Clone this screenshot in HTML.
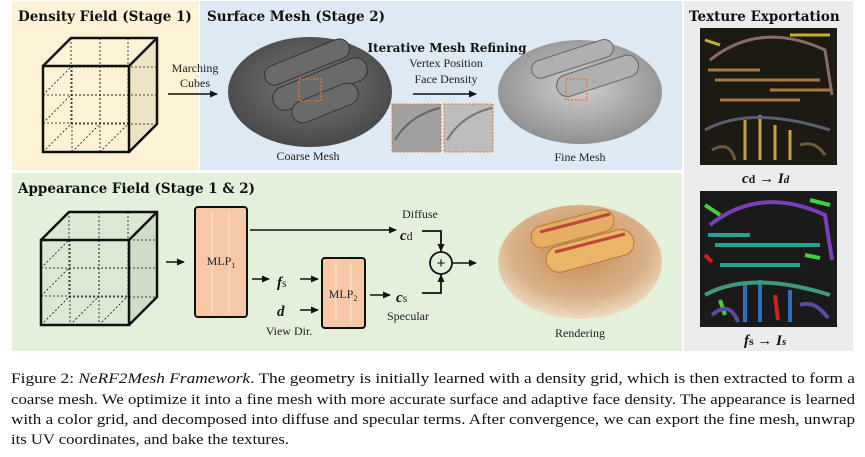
<!DOCTYPE html>
<html><head><meta charset="utf-8"><style>
html,body{margin:0;padding:0;background:#fff;width:865px;height:457px;overflow:hidden}
svg{display:block}
.t{font-family:"DejaVu Serif","Liberation Serif",serif;font-weight:bold;font-size:13.5px;fill:#111}
.s{font-family:"Liberation Serif",serif;font-size:12px;fill:#222}
.m{font-family:"Liberation Serif",serif;font-style:italic;font-weight:bold;font-size:15px;fill:#111}
.c{font-family:"Liberation Serif",serif;font-size:15px;fill:#111}
</style></head><body>
<svg width="865" height="457" viewBox="0 0 865 457" xmlns="http://www.w3.org/2000/svg">
<defs>
<marker id="a" markerWidth="8" markerHeight="8" refX="7" refY="4" orient="auto" markerUnits="userSpaceOnUse"><path d="M0,0.5 L8,4 L0,7.5z" fill="#111"/></marker>
<radialGradient id="g1" cx="50%" cy="45%" r="60%"><stop offset="0" stop-color="#7a7a7a"/><stop offset="1" stop-color="#444"/></radialGradient>
<radialGradient id="g2" cx="50%" cy="45%" r="60%"><stop offset="0" stop-color="#d0d0d0"/><stop offset="1" stop-color="#8a8a8a"/></radialGradient>
<radialGradient id="g3" cx="50%" cy="40%" r="60%"><stop offset="0" stop-color="#c98a55"/><stop offset="0.7" stop-color="#d9b188"/><stop offset="1" stop-color="#efdcc4"/></radialGradient>
</defs>
<rect x="12" y="1" width="187" height="169" fill="#fdf2d6"/>
<rect x="200" y="1" width="482" height="169" fill="#dde9f5"/>
<rect x="12" y="173" width="670" height="178" fill="#e3f0da"/>
<rect x="684" y="1" width="169" height="350" fill="#ececec"/>

<text class="t" x="18" y="21">Density Field (Stage 1)</text>
<text class="t" x="207" y="21">Surface Mesh (Stage 2)</text>
<text class="t" x="18" y="193">Appearance Field (Stage 1 &amp; 2)</text>
<text class="t" x="689" y="21">Texture Exportation</text>

<g stroke="#111" fill="none">
<polygon points="129,66 157,38 157,124 129,152" fill="#efe3c6" stroke="none"/>
<g stroke-dasharray="2,2" stroke-width="0.8">
<line x1="71" y1="38" x2="71" y2="124"/><line x1="71" y1="124" x2="157" y2="124"/><line x1="43" y1="152" x2="71" y2="124"/>
<line x1="100" y1="38" x2="100" y2="124"/><line x1="128" y1="38" x2="128" y2="124"/>
<line x1="71" y1="67" x2="157" y2="67"/><line x1="71" y1="95" x2="157" y2="95"/>
<line x1="72" y1="66" x2="72" y2="152"/><line x1="100" y1="66" x2="100" y2="152"/>
<line x1="43" y1="95" x2="129" y2="95"/><line x1="43" y1="123" x2="129" y2="123"/>
<line x1="43" y1="123" x2="71" y2="95"/><line x1="43" y1="95" x2="71" y2="67"/>
<line x1="72" y1="152" x2="100" y2="124"/><line x1="100" y1="152" x2="128" y2="124"/>
</g>
<g stroke-width="2.5">
<rect x="43" y="66" width="86" height="86"/>
<polyline points="43,66 71,38 157,38 157,124 129,152"/><line x1="129" y1="66" x2="157" y2="38"/>
</g>
</g>
<text class="s" x="195" y="72" text-anchor="middle">Marching</text>
<text class="s" x="195" y="87" text-anchor="middle">Cubes</text>
<line x1="168" y1="94" x2="217" y2="94" stroke="#111" stroke-width="1.5" marker-end="url(#a)"/>

<ellipse cx="310" cy="92" rx="82" ry="55" fill="url(#g1)"/>
<g fill="#6a6a6a" stroke="#333" stroke-width="1">
<rect x="262" y="52" width="90" height="20" rx="10" transform="rotate(-22 307 62)"/>
<rect x="270" y="72" width="100" height="24" rx="12" transform="rotate(-22 320 84)"/>
<rect x="290" y="92" width="70" height="22" rx="11" transform="rotate(-22 325 103)"/>
</g>
<rect x="299" y="79" width="22" height="22" fill="none" stroke="#f07020" stroke-width="1.3" stroke-dasharray="2,1.5"/>
<text class="s" x="308" y="160" text-anchor="middle">Coarse Mesh</text>

<text class="t" x="447" y="52" text-anchor="middle" style="font-size:12px">Iterative Mesh Refining</text>
<text class="s" x="446" y="67" text-anchor="middle">Vertex Position</text>
<text class="s" x="446" y="83" text-anchor="middle">Face Density</text>
<line x1="413" y1="94" x2="476" y2="94" stroke="#111" stroke-width="1.5" marker-end="url(#a)"/>
<rect x="392" y="104" width="49" height="48" fill="#a0a0a0" stroke="#f07020" stroke-dasharray="2,1.5"/>
<rect x="444" y="104" width="49" height="48" fill="#bdbdbd" stroke="#f07020" stroke-dasharray="2,1.5"/>
<path d="M395,140 Q410,115 440,108" stroke="#666" fill="none" stroke-width="2"/>
<path d="M447,140 Q462,115 492,108" stroke="#777" fill="none" stroke-width="2"/>

<ellipse cx="580" cy="92" rx="82" ry="52" fill="url(#g2)"/>
<g fill="#b0b0b0" stroke="#666" stroke-width="1">
<rect x="530" y="50" width="85" height="18" rx="9" transform="rotate(-18 572 59)"/>
<rect x="555" y="65" width="85" height="22" rx="11" transform="rotate(-18 597 76)"/>
</g>
<rect x="566" y="79" width="21" height="21" fill="none" stroke="#f07020" stroke-width="1.3" stroke-dasharray="2,1.5"/>
<text class="s" x="580" y="161" text-anchor="middle">Fine Mesh</text>

<g stroke="#111" fill="none">
<polygon points="41,240 69,212 157,212 157,297 129,325 41,325" fill="#dbe9d3" stroke="none"/>
<polygon points="129,240 157,212 157,297 129,325" fill="#cfdcc8" stroke="none"/>
<g stroke-dasharray="2,2" stroke-width="0.8">
<line x1="69" y1="212" x2="69" y2="297"/><line x1="69" y1="297" x2="157" y2="297"/><line x1="41" y1="325" x2="69" y2="297"/>
<line x1="99" y1="212" x2="99" y2="297"/><line x1="128" y1="212" x2="128" y2="297"/>
<line x1="69" y1="240" x2="157" y2="240"/><line x1="69" y1="268" x2="157" y2="268"/>
<line x1="70" y1="240" x2="70" y2="325"/><line x1="99" y1="240" x2="99" y2="325"/>
<line x1="41" y1="268" x2="129" y2="268"/><line x1="41" y1="296" x2="129" y2="296"/>
<line x1="41" y1="296" x2="69" y2="268"/><line x1="41" y1="268" x2="69" y2="240"/>
<line x1="70" y1="325" x2="98" y2="297"/><line x1="99" y1="325" x2="127" y2="297"/>
</g>
<g stroke-width="2.5">
<rect x="41" y="240" width="88" height="85"/>
<polyline points="41,240 69,212 157,212 157,297 129,325"/><line x1="129" y1="240" x2="157" y2="212"/>
</g>
</g>
<line x1="166" y1="262" x2="184" y2="262" stroke="#111" stroke-width="1.5" marker-end="url(#a)"/>

<rect x="195" y="207" width="52" height="110" rx="3" fill="#f6c8a8" stroke="#111" stroke-width="2"/>
<g stroke="#fbe3d2" stroke-width="1"><line x1="212" y1="211" x2="212" y2="313"/><line x1="229" y1="211" x2="229" y2="313"/></g>
<text class="s" x="221" y="265" text-anchor="middle">MLP<tspan font-size="8" dy="3">1</tspan></text>
<line x1="250" y1="230" x2="396" y2="230" stroke="#111" stroke-width="1.5" marker-end="url(#a)"/>
<text class="s" x="420" y="218" text-anchor="middle">Diffuse</text>
<text class="m" x="400" y="240">c<tspan class="s" font-style="normal" font-weight="normal" font-size="11">d</tspan></text>
<line x1="252" y1="279" x2="269" y2="279" stroke="#111" stroke-width="1.5" marker-end="url(#a)"/>
<text class="m" x="277" y="287">f<tspan class="s" font-style="normal" font-weight="normal" font-size="11">s</tspan></text>
<line x1="300" y1="279" x2="318" y2="279" stroke="#111" stroke-width="1.5" marker-end="url(#a)"/>
<text class="m" x="277" y="316">d</text>
<line x1="300" y1="310" x2="318" y2="310" stroke="#111" stroke-width="1.5" marker-end="url(#a)"/>
<text class="s" x="289" y="335" text-anchor="middle">View Dir.</text>
<rect x="322" y="258" width="43" height="70" rx="3" fill="#f6c8a8" stroke="#111" stroke-width="2"/>
<g stroke="#fbe3d2" stroke-width="1"><line x1="336" y1="262" x2="336" y2="324"/><line x1="351" y1="262" x2="351" y2="324"/></g>
<text class="s" x="343" y="298" text-anchor="middle" font-size="11">MLP<tspan font-size="8" dy="3">2</tspan></text>
<line x1="370" y1="295" x2="390" y2="295" stroke="#111" stroke-width="1.5" marker-end="url(#a)"/>
<text class="m" x="396" y="302">c<tspan class="s" font-style="normal" font-weight="normal" font-size="11">s</tspan></text>
<text class="s" x="408" y="320" text-anchor="middle">Specular</text>
<polyline points="422,231 441,231 441,251" fill="none" stroke="#111" stroke-width="1.8" marker-end="url(#a)"/>
<polyline points="422,293 441,293 441,275" fill="none" stroke="#111" stroke-width="1.8" marker-end="url(#a)"/>
<circle cx="441" cy="263" r="11" fill="none" stroke="#111" stroke-width="1.8"/>
<text x="441" y="268" text-anchor="middle" font-family="Liberation Sans,sans-serif" font-size="15" fill="#111">+</text>
<line x1="452" y1="263" x2="476" y2="263" stroke="#111" stroke-width="1.5" marker-end="url(#a)"/>

<ellipse cx="580" cy="262" rx="82" ry="57" fill="url(#g3)"/>
<g stroke="#b77b3a" stroke-width="1">
<rect x="530" y="218" width="85" height="22" rx="11" fill="#e6ae62" transform="rotate(-15 572 229)"/>
<rect x="545" y="238" width="90" height="26" rx="13" fill="#eab566" transform="rotate(-15 590 251)"/>
</g>
<line x1="540" y1="232" x2="610" y2="214" stroke="#c0453a" stroke-width="3"/>
<line x1="555" y1="252" x2="625" y2="234" stroke="#c0453a" stroke-width="3"/>
<text class="s" x="580" y="337" text-anchor="middle">Rendering</text>

<rect x="700" y="28" width="137" height="137" fill="#1c1a12"/>
<g fill="none" stroke-width="3">
<path d="M710,60 Q760,20 825,50 L832,95" stroke="#8a6a6a"/>
<path d="M715,80 L820,80 M720,100 L800,100 M708,70 L760,70 M770,90 L830,90" stroke="#a77a40"/>
<path d="M745,120 L745,160 M760,115 L760,160 M775,125 L775,160 M790,130 L790,160" stroke="#c9a040"/>
<path d="M705,130 Q750,105 830,130" stroke="#556070"/>
<path d="M790,35 L830,35 M705,40 L720,45" stroke="#c8b030"/>
<path d="M712,150 Q730,140 735,160 M800,145 Q815,140 825,155" stroke="#6a5a3a"/>
</g>
<rect x="700" y="191" width="137" height="136" fill="#1a1a1a"/>
<g fill="none" stroke-width="4">
<path d="M710,225 Q760,185 825,215 L832,260" stroke="#7a3fb0"/>
<path d="M715,245 L820,245 M720,265 L800,265 M708,235 L750,235" stroke="#2aa090"/>
<path d="M745,285 L745,322 M760,280 L760,322 M790,290 L790,322" stroke="#3070c0"/>
<path d="M705,295 Q750,270 830,295" stroke="#3f9a7a"/>
<path d="M705,205 L720,215 M810,200 L830,205 M720,300 L725,315 M805,255 L820,258" stroke="#40d040"/>
<path d="M775,295 L778,320 M705,255 L712,262" stroke="#d02020"/>
<path d="M712,315 Q730,300 738,322 M800,305 Q815,300 828,318" stroke="#5a4aa0"/>
</g>
<text class="m" x="742" y="183">c<tspan class="s" font-style="normal" font-weight="bold" font-size="11">d</tspan> → I<tspan font-size="11">d</tspan></text>
<text class="m" x="744" y="345">f<tspan class="s" font-style="normal" font-weight="bold" font-size="11">s</tspan> → I<tspan font-size="11">s</tspan></text>

<text class="c" x="11" y="383" textLength="844" lengthAdjust="spacingAndGlyphs">Figure 2: <tspan font-style="italic">NeRF2Mesh Framework</tspan>. The geometry is initially learned with a density grid, which is then extracted to form a</text>
<text class="c" x="11" y="404" textLength="844" lengthAdjust="spacingAndGlyphs">coarse mesh. We optimize it into a fine mesh with more accurate surface and adaptive face density. The appearance is learned</text>
<text class="c" x="11" y="424" textLength="844" lengthAdjust="spacingAndGlyphs">with a color grid, and decomposed into diffuse and specular terms. After convergence, we can export the fine mesh, unwrap</text>
<text class="c" x="11" y="444" textLength="278" lengthAdjust="spacingAndGlyphs">its UV coordinates, and bake the textures.</text>
</svg>
</body></html>
